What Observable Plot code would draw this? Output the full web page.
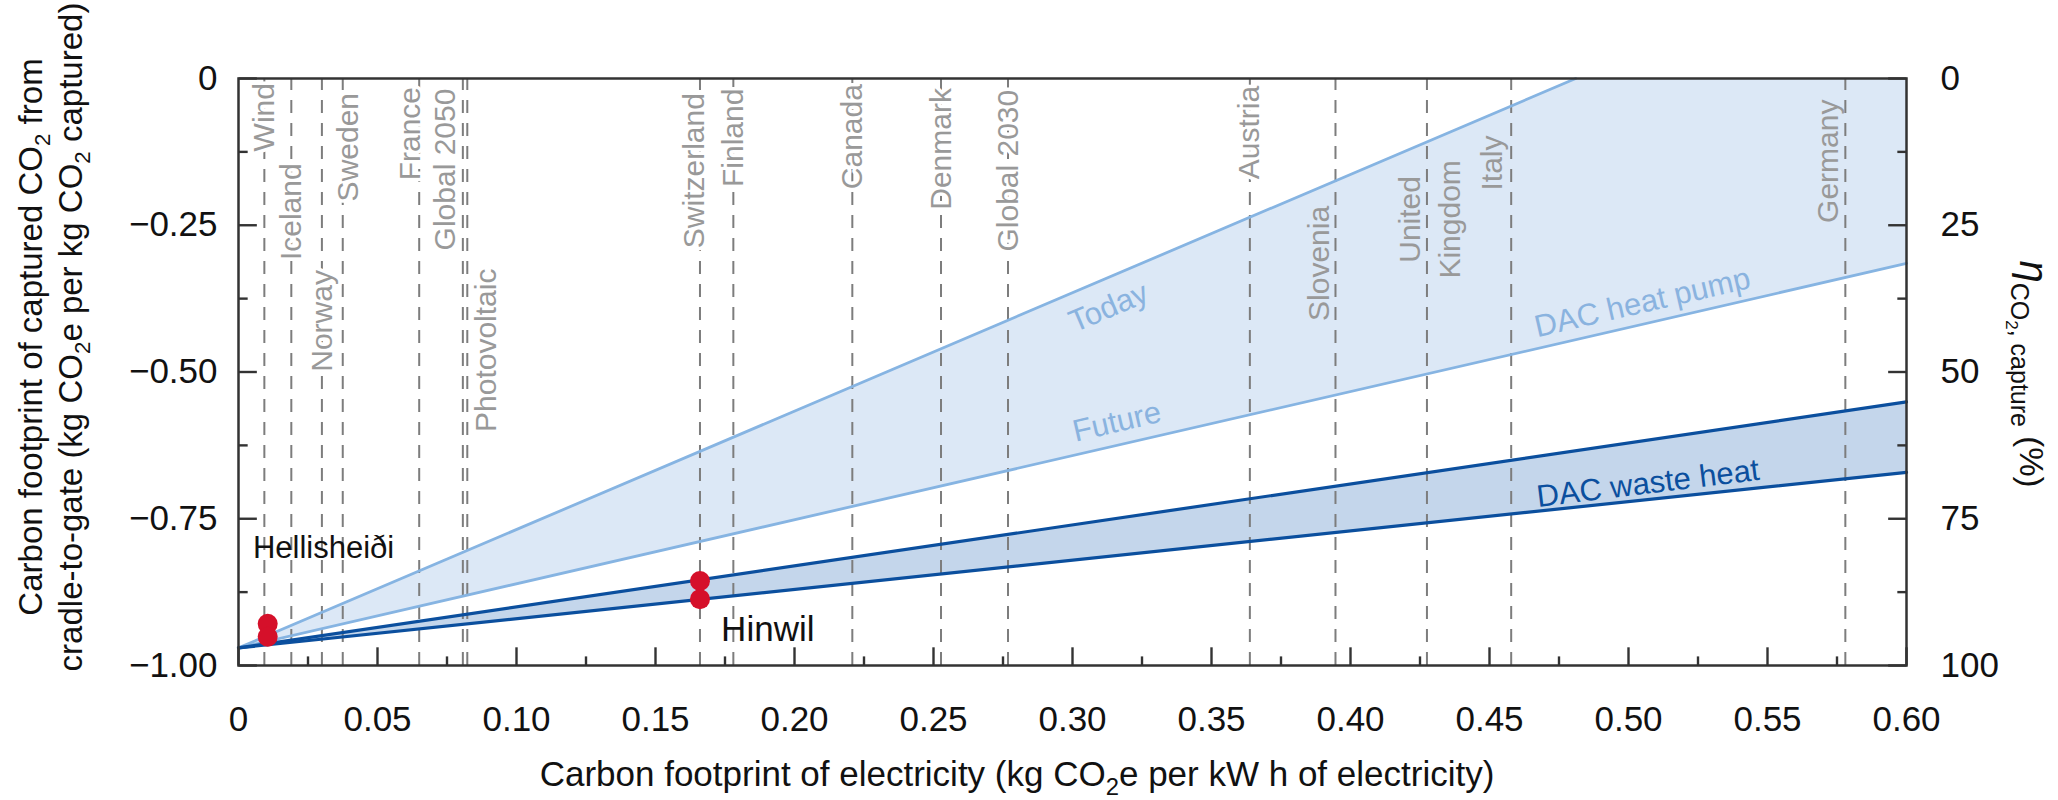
<!DOCTYPE html>
<html>
<head>
<meta charset="utf-8">
<script src="https://cdn.jsdelivr.net/npm/d3@7"></script>
<script src="https://cdn.jsdelivr.net/npm/@observablehq/plot@0.6"></script>
<style>
  html, body { margin: 0; padding: 0; background: #fff; }
  #chart svg { display: block; }
</style>
</head>
<body>
<div id="chart"></div>
<script>
// ---------- data ----------
const sourceNames = ["Wind", "Iceland", "Norway", "Sweden", "France", "Global 2050", "Photovoltaic",
  "Switzerland", "Finland", "Canada", "Denmark", "Global 2030", "Austria", "Slovenia",
  "United\nKingdom", "Italy", "Germany"];
const sourceFootprint = [0.0093, 0.019, 0.030, 0.0375, 0.065, 0.0807, 0.0823,
  0.166, 0.178, 0.2208, 0.2527, 0.2768, 0.3638, 0.3946, 0.4275, 0.4578, 0.578];
const labelX = [0.0093, 0.019, 0.030, 0.0395, 0.062, 0.0745, 0.0893,
  0.164, 0.178, 0.2208, 0.2527, 0.2768, 0.3638, 0.3877, 0.4275, 0.450, 0.5707];
const labelY = [-0.066, -0.227, -0.413, -0.117, -0.094, -0.155, -0.463,
  -0.157, -0.101, -0.099, -0.12, -0.157, -0.092, -0.315, -0.24, -0.144, -0.141];

const todayX = [0, 0.481];
const todayY = [-0.97, 0];
const futureX = [0, 0.6];
const futureY = [-0.97, -0.315];
const hpBandX = [0, 0.481, 0.6];
const hpBandTop = [-0.97, 0, 0];
const hpBandBottom = [-0.97, -0.445, -0.315];

const wasteX = [0, 0.6];
const wasteUpper = [-0.97, -0.551];
const wasteLower = [-0.97, -0.671];

const plantNames = ["Hellisheiði", "Hellisheiði", "Hinwil", "Hinwil"];
const plantX = [0.0105, 0.0105, 0.166, 0.166];
const plantY = [-0.929, -0.951, -0.856, -0.887];

const xMajor = [0, 0.05, 0.10, 0.15, 0.20, 0.25, 0.30, 0.35, 0.40, 0.45, 0.50, 0.55, 0.60];
const xMinor = [0.025, 0.075, 0.125, 0.175, 0.225, 0.275, 0.325, 0.375, 0.425, 0.475, 0.525, 0.575];
const yMajor = [0, -0.25, -0.5, -0.75, -1];
const yMinor = [-0.125, -0.375, -0.625, -0.875];
const etaLabels = ["0", "25", "50", "75", "100"];

const sources = sourceNames.map((n, i) => ({i, name: n, x: sourceFootprint[i], lx: labelX[i], ly: labelY[i]}));
const today = todayX.map((x, i) => ({x, y: todayY[i]}));
const future = futureX.map((x, i) => ({x, y: futureY[i]}));
const hpBand = hpBandX.map((x, i) => ({x, hi: hpBandTop[i], lo: hpBandBottom[i]}));
const wasteUp = wasteX.map((x, i) => ({x, y: wasteUpper[i]}));
const wasteLo = wasteX.map((x, i) => ({x, y: wasteLower[i]}));
const wasteBand = wasteX.map((x, i) => ({x, hi: wasteUpper[i], lo: wasteLower[i]}));
const plants = plantNames.map((n, i) => ({name: n, x: plantX[i], y: plantY[i]}));
const xTicks = xMajor.map(x => ({x, major: true})).concat(xMinor.map(x => ({x, major: false})));
const yTicks = yMajor.map(y => ({y, major: true})).concat(yMinor.map(y => ({y, major: false})));

const LIGHT = "#86b4e2", LIGHTTXT = "#8ab3df", LIGHTFILL = "#dce8f6", DARK = "#0b4f9e", DARKFILL = "#c4d6eb";
const GREY = "#999999", AXIS = "#333333";
const FONT = "'Liberation Sans', Arial, Helvetica, sans-serif";

const fmtY = d => d === 0 ? "0" : "\u2212" + Math.abs(d).toFixed(2);
const fmtX = d => d === 0 ? "0" : d.toFixed(2);
const fmtEta = d => etaLabels[yMajor.indexOf(d)];
const id = d => d;

const chart = Plot.plot({
  width: 2058,
  height: 800,
  marginLeft: 238,
  marginRight: 152,
  marginTop: 78,
  marginBottom: 135,
  x: {domain: [0, 0.6], label: null},
  y: {domain: [-1, 0], label: null},
  style: {fontFamily: FONT, fontSize: "35px", color: "#111", background: "#fff"},
  marks: [
    Plot.areaY(hpBand, {x: "x", y1: "lo", y2: "hi", fill: LIGHTFILL}),
    Plot.areaY(wasteBand, {x: "x", y1: "lo", y2: "hi", fill: DARKFILL}),
    Plot.ruleX(sources, {x: "x", y1: -1, y2: 0, stroke: "#7d7d7d", strokeWidth: 2, strokeDasharray: "13,10"}),
    Plot.text(sources, {filter: d => d.i < 13, x: "lx", y: "ly", text: "name", rotate: -90,
      textAnchor: "middle", lineAnchor: "middle", fill: GREY, fontSize: 30,
      stroke: "white", strokeWidth: 7}),
    Plot.text(sources, {filter: d => d.i >= 13, x: "lx", y: "ly", text: "name", rotate: -90,
      textAnchor: "middle", lineAnchor: "middle", lineHeight: 1.35, fill: GREY, fontSize: 30}),
    Plot.line(today, {x: "x", y: "y", stroke: LIGHT, strokeWidth: 2.8}),
    Plot.line(future, {x: "x", y: "y", stroke: LIGHT, strokeWidth: 2.8}),
    Plot.line(wasteUp, {x: "x", y: "y", stroke: DARK, strokeWidth: 3.2}),
    Plot.line(wasteLo, {x: "x", y: "y", stroke: DARK, strokeWidth: 3.2}),
    Plot.text(["Today"], {x: 0.313, y: -0.39, text: id, rotate: -23, fill: LIGHTTXT, fontSize: 31}),
    Plot.text(["Future"], {x: 0.316, y: -0.585, text: id, rotate: -13, fill: LIGHTTXT, fontSize: 31}),
    Plot.text(["DAC heat pump"], {x: 0.505, y: -0.382, text: id, rotate: -13, fill: LIGHTTXT, fontSize: 31}),
    Plot.text(["DAC waste heat"], {x: 0.507, y: -0.69, text: id, rotate: -7, fill: DARK, fontSize: 31}),
    Plot.dot(plants, {x: "x", y: "y", r: 10, fill: "#d5102a", stroke: null}),
    Plot.text(["Hellisheiði"], {x: 0.0052, y: -0.80, text: id, textAnchor: "start", fill: "#111", fontSize: 31}),
    Plot.text(["Hinwil"], {x: 0.1736, y: -0.94, text: id, textAnchor: "start", fill: "#111", fontSize: 35}),
    Plot.frame({stroke: AXIS, strokeWidth: 2.5}),
    // inward tick marks as short line segments (one z-series per tick)
    Plot.link(xTicks, {x1: "x", x2: "x", y1: -1, y2: d => d.major ? -0.969 : -0.9845, stroke: AXIS, strokeWidth: 2.4}),
    Plot.link(yTicks, {y1: "y", y2: "y", x1: 0, x2: d => d.major ? 0.0066 : 0.0033, stroke: AXIS, strokeWidth: 2.4}),
    Plot.link(yTicks, {y1: "y", y2: "y", x1: d => d.major ? 0.5934 : 0.5967, x2: 0.6, stroke: AXIS, strokeWidth: 2.4}),
    Plot.axisX({ticks: xMajor, tickSize: 0, tickPadding: 41, tickFormat: fmtX, label: null, fill: "#111"}),
    Plot.axisY({ticks: yMajor, anchor: "left", tickSize: 0, tickPadding: 21, tickFormat: fmtY, label: null, fill: "#111"}),
    Plot.axisY({ticks: yMajor, anchor: "right", tickSize: 0, tickPadding: 34, tickFormat: fmtEta, label: null, fill: "#111"})
  ]
});

document.getElementById("chart").appendChild(chart);

const svg = d3.select(chart);

function rich(sel, parts, size) {
  let prevSub = false;
  parts.forEach(([t, sub]) => {
    const ts = sel.append("tspan").text(t);
    if (sub) ts.attr("font-size", size * 0.68);
    if (sub && !prevSub) ts.attr("dy", size * 0.25);
    else if (!sub && prevSub) ts.attr("dy", -size * 0.25);
    prevSub = sub;
  });
}

const xt = svg.append("text")
  .attr("x", 1017).attr("y", 786)
  .attr("text-anchor", "middle").attr("font-family", FONT).attr("font-size", 35).attr("fill", "#111");
rich(xt, [["Carbon footprint of electricity (kg CO", false], ["2", true], ["e per kW h of electricity)", false]], 35);

const yt1 = svg.append("text")
  .attr("transform", "translate(42,337) rotate(-90)")
  .attr("text-anchor", "middle").attr("font-family", FONT).attr("font-size", 33).attr("fill", "#111");
rich(yt1, [["Carbon footprint of captured CO", false], ["2", true], [" from", false]], 33);
const yt2 = svg.append("text")
  .attr("transform", "translate(82,337) rotate(-90)")
  .attr("text-anchor", "middle").attr("font-family", FONT).attr("font-size", 33).attr("fill", "#111");
rich(yt2, [["cradle-to-gate (kg CO", false], ["2", true], ["e per kg CO", false], ["2", true], [" captured)", false]], 33);

const rt = svg.append("text")
  .attr("transform", "translate(2020,374) rotate(90)")
  .attr("text-anchor", "middle").attr("font-family", FONT).attr("fill", "#111");
rt.append("tspan").text("\u03b7").attr("font-size", 40).attr("font-style", "italic");
rt.append("tspan").text("CO").attr("font-size", 25).attr("dy", 9);
rt.append("tspan").text("2").attr("font-size", 17).attr("dy", 5);
rt.append("tspan").text(", capture").attr("font-size", 25).attr("dy", -5);
rt.append("tspan").text(" (%)").attr("font-size", 33).attr("dy", -9);
</script>
</body>
</html>
